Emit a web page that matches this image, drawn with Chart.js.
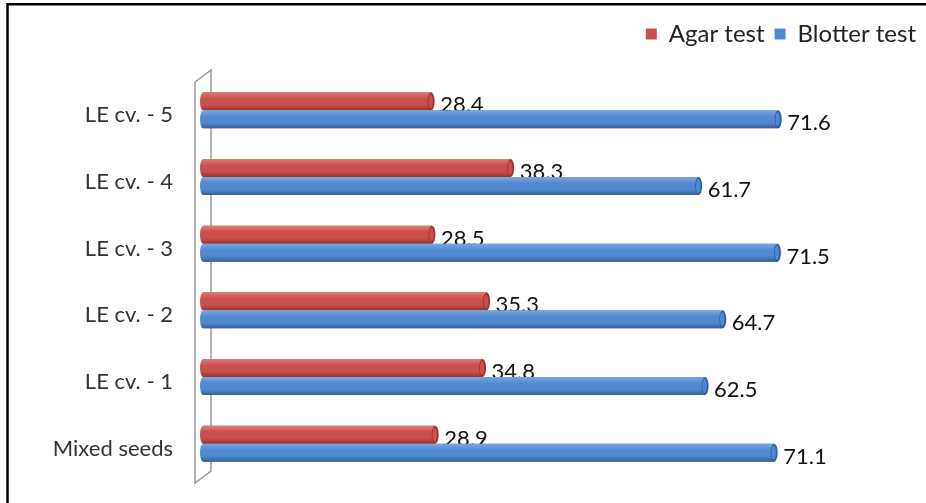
<!DOCTYPE html>
<html>
<head>
<meta charset="utf-8">
<script src="https://cdn.jsdelivr.net/npm/chart.js@4.4.1/dist/chart.umd.min.js"></script>
<style>
  html, body { margin: 0; padding: 0; background: #fff; }
  #wrap { width: 926px; height: 503px; position: relative; }
</style>
</head>
<body>
<div id="wrap"><canvas id="myChart" width="926" height="503"></canvas></div>
<script>
// categories, top to bottom as in the picture
const categories = ['LE cv. - 5', 'LE cv. - 4', 'LE cv. - 3', 'LE cv. - 2', 'LE cv. - 1', 'Mixed seeds'];
const agarTest = [28.4, 38.3, 28.5, 35.3, 34.8, 28.9];
const blotterTest = [71.6, 61.7, 71.5, 64.7, 62.5, 71.1];
const seriesNames = ['Agar test', 'Blotter test'];

const FONT = 'Lato';

// colours for the cylinder look: [top, body, bottom]
const shades = [
  ['#e27a77', '#c9504c', '#943533'],
  ['#7aa8e3', '#5189d0', '#335f98']
];

// grey 3D "wall" on the left of the plot
const wallPlugin = {
  id: 'wall',
  beforeDatasetsDraw(chart) {
    const a = chart.chartArea;
    const c = chart.ctx;
    const x0 = a.left - 8, x1 = a.left + 8;
    c.save();
    c.strokeStyle = '#9a9a9a';
    c.lineWidth = 1.5;
    c.beginPath();
    c.moveTo(x0, a.top + 5);
    c.lineTo(x1, a.top - 7);
    c.lineTo(x1, a.bottom - 6);
    c.lineTo(x0, a.bottom + 6);
    c.closePath();
    c.stroke();
    c.restore();
  }
};

// shading, end caps and value labels on each bar
const cylinderPlugin = {
  id: 'cylinder',
  afterDatasetsDraw(chart) {
    const c = chart.ctx;
    chart.data.datasets.forEach((ds, di) => {
      const meta = chart.getDatasetMeta(di);
      const s = shades[di];
      meta.data.forEach((bar, i) => {
        const p = bar.getProps(['x', 'y', 'base', 'height']);
        const top = p.y - p.height / 2, bot = p.y + p.height / 2;
        const g = c.createLinearGradient(0, top, 0, bot);
        g.addColorStop(0, s[0]);
        g.addColorStop(0.35, s[1]);
        g.addColorStop(0.7, s[1]);
        g.addColorStop(1, s[2]);
        c.save();
        c.fillStyle = g;
        c.beginPath();
        c.ellipse(p.base, p.y, 3, p.height / 2, 0, Math.PI / 2, Math.PI * 1.5);
        c.lineTo(p.x, top);
        c.lineTo(p.x, bot);
        c.closePath();
        c.fill();
        // end cap
        c.beginPath();
        c.ellipse(p.x, p.y, 3.5, p.height / 2, 0, 0, Math.PI * 2);
        c.fillStyle = s[2];
        c.fill();
        c.beginPath();
        c.ellipse(p.x - 0.5, p.y, 2.2, p.height / 2 - 2, 0, 0, Math.PI * 2);
        c.fillStyle = s[1];
        c.fill();
        // value label
        c.fillStyle = '#111';
        c.font = '22px ' + FONT;
        c.textAlign = 'left';
        c.textBaseline = 'middle';
        c.fillText(ds.data[i].toFixed(1), p.x + 9, p.y + 4);
        c.restore();
      });
    });
  }
};

// frame around the picture (only top and left edges show)
const framePlugin = {
  id: 'frame',
  afterDraw(chart) {
    const c = chart.ctx;
    c.save();
    c.strokeStyle = '#000';
    c.lineWidth = 2.5;
    c.beginPath();
    c.moveTo(7.5, chart.height);
    c.lineTo(7.5, 4.2);
    c.lineTo(chart.width, 4.2);
    c.stroke();
    c.restore();
  }
};

// extra room under the legend
const legendGap = {
  id: 'legendGap',
  beforeInit(chart) {
    const fit = chart.legend.fit;
    chart.legend.fit = function () {
      fit.bind(chart.legend)();
      this.height += 21;
    };
  }
};

const ctx = document.getElementById('myChart');
const myChart = new Chart(ctx, {
  type: 'bar',
  data: {
    labels: categories,
    datasets: [{
      label: seriesNames[0],
      data: agarTest,
      backgroundColor: shades[0][1],
      borderWidth: 0
    }, {
      label: seriesNames[1],
      data: blotterTest,
      backgroundColor: shades[1][1],
      borderWidth: 0
    }]
  },
  options: {
    indexAxis: 'y',
    responsive: false,
    animation: false,
    layout: {
      padding: { top: 12, right: 0, bottom: 26, left: 0 }
    },
    datasets: {
      bar: { categoryPercentage: 0.54, barPercentage: 1 }
    },
    scales: {
      x: {
        display: false,
        min: 0,
        max: 90
      },
      y: {
        grid: { display: false },
        border: { display: false },
        ticks: {
          color: '#333',
          padding: 22,
          labelOffset: 5,
          font: { family: FONT, size: 22 }
        },
        afterFit(scale) {
          scale.width = 203;
          scale.paddingTop = 0;
          scale.paddingBottom = 0;
        }
      }
    },
    plugins: {
      tooltip: { enabled: false },
      legend: {
        position: 'top',
        align: 'end',
        labels: {
          boxWidth: 11,
          boxHeight: 11,
          padding: 10,
          color: '#222',
          font: { family: FONT, size: 24 },
          generateLabels(chart) {
            const items = Chart.defaults.plugins.legend.labels.generateLabels(chart);
            items.forEach((it, k) => {
              it.fillStyle = shades[k][1];
              it.strokeStyle = shades[k][1];
              it.lineWidth = 0;
            });
            return items;
          }
        }
      }
    }
  },
  plugins: [wallPlugin, cylinderPlugin, framePlugin, legendGap]
});
</script>
</body>
</html>
